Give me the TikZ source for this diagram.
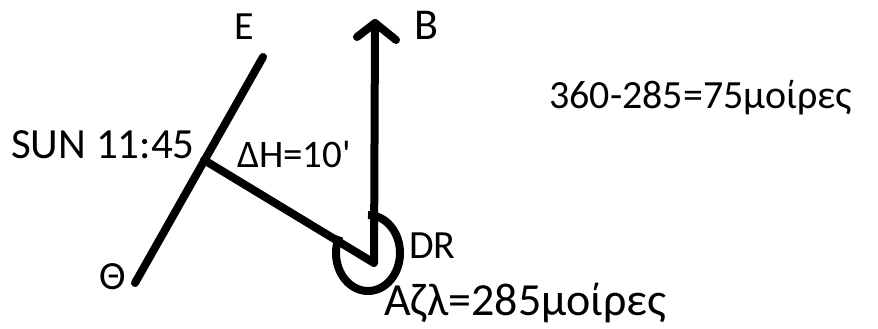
\documentclass[tikz,border=0pt]{standalone}
\usepackage{fontspec}
\setmainfont{Carlito}[Ligatures=TeXOff]
\begin{document}
\begin{tikzpicture}[x=1pt,y=-1pt,
  stroke/.style={line width=8pt,line cap=round,line join=round},
  lbl/.style={anchor=base west,inner sep=0pt,font=\fontsize{40}{48}\selectfont}]
\useasboundingbox[fill=white] (0,0) rectangle (878,329);
% points
\coordinate (etop) at (263,57);
\coordinate (thbot) at (135,283);
\coordinate (sun) at (204,160);
\coordinate (dr) at (374,263);
\coordinate (btip) at (375,23);
\coordinate (bl) at (357,37);
\coordinate (br) at (396,40);
% lines
\draw[stroke] (etop) -- (thbot);
\draw[stroke] (sun) -- (dr) -- (btip);
\draw[stroke] (bl) -- (btip) -- (br);
% azimuth arc
\draw[stroke,line cap=butt] (368,253) ++(-90:32 and 38) arc[start angle=-90,end angle=206,x radius=32,y radius=38];
% labels
\node[lbl] (E) at (234,40) {E};
\node[lbl,font=\fontsize{44}{50}\selectfont] (B) at (414,40) {B};
\node[lbl,font=\fontsize{43}{50}\selectfont] (sunl) at (11,158) {SUN 11:45};
\node[lbl,font=\fontsize{39}{48}\selectfont] (dh) at (237,167) {ΔH=10'};
\node[lbl] (th) at (99,289) {Θ};
\node[lbl] (drl) at (409,258) {DR};
\node[lbl,font=\fontsize{46}{52}\selectfont] (az) at (384,315) {Αζλ=285μοίρες};
\node[lbl] (calc) at (549,108) {360-285=75μοίρες};
\end{tikzpicture}
\end{document}
